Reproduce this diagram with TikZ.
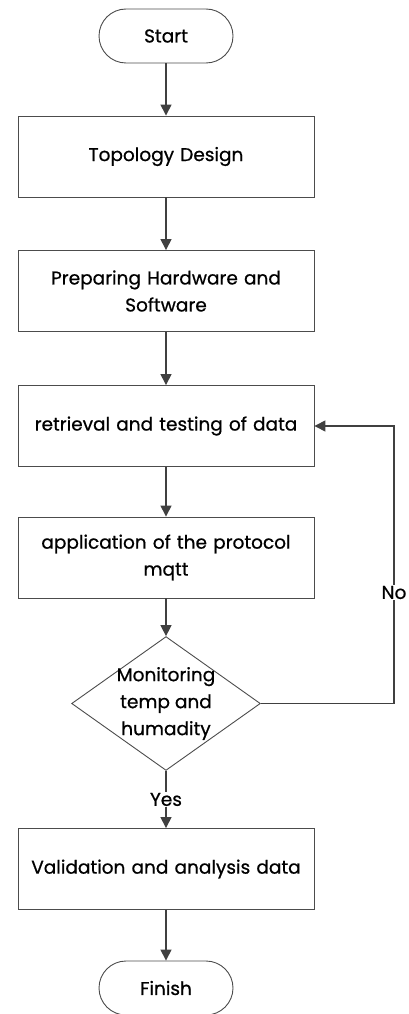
\documentclass[tikz,border=0pt]{standalone}
\usepackage{fontspec}
\setmainfont{Poppins}
\newfontfamily\chartfont{Poppins}[FakeBold=0.7]
\usetikzlibrary{shapes.geometric,arrows.meta}

\begin{document}
\begin{tikzpicture}[x=1pt,y=-1pt,
  every node/.style={font=\chartfont\fontsize{18.5}{27}\selectfont, text=black},
  process/.style={draw=black!70, line width=0.9pt, minimum width=296pt,
    minimum height=81pt, align=center, text width=285pt},
  terminal/.style={draw=black!70, line width=0.9pt, rounded corners=27pt,
    minimum width=134pt, minimum height=54pt},
  decision/.style={draw=black!70, line width=0.9pt, diamond, aspect=1.41,
    minimum width=188pt, minimum height=133pt, inner sep=-2.6pt, align=center},
  flow/.style={draw=black!75, line width=1.4pt,
    -{Triangle[length=11pt,width=11pt]}},
  lbl/.style={fill=white, inner sep=1pt}]

  \useasboundingbox (0,0) rectangle (409,1014);

  \node[terminal] (start) at (166,36) {Start};
  \node[process] (topo) at (166,156.5) {Topology Design};
  \node[process] (prep) at (166,291) {Preparing Hardware and\\Software};
  \node[process] (retr) at (166,426) {retrieval and testing of data};
  \node[process] (appl) at (166,557.5) {application of the protocol\\mqtt};
  \node[decision] (mon) at (166,703.5) {Monitoring\\temp and\\humadity};
  \node[process] (vali) at (166,869) {Validation and analysis data};
  \node[terminal] (fin) at (166,988) {Finish};

  \coordinate (nobot) at (394,703.5);
  \coordinate (notop) at (394,426);

  \draw[flow] (start) -- (topo);
  \draw[flow] (topo) -- (prep);
  \draw[flow] (prep) -- (retr);
  \draw[flow] (retr) -- (appl);
  \draw[flow] (appl) -- (mon);
  \draw[flow] (mon) -- node[lbl, pos=0.5] {Yes} (vali);
  \draw[flow] (vali) -- (fin);
  \draw[flow] (mon.east) -- (nobot) -- node[lbl, pos=0.4] {No} (notop) -- (retr.east);
\end{tikzpicture}
\end{document}
